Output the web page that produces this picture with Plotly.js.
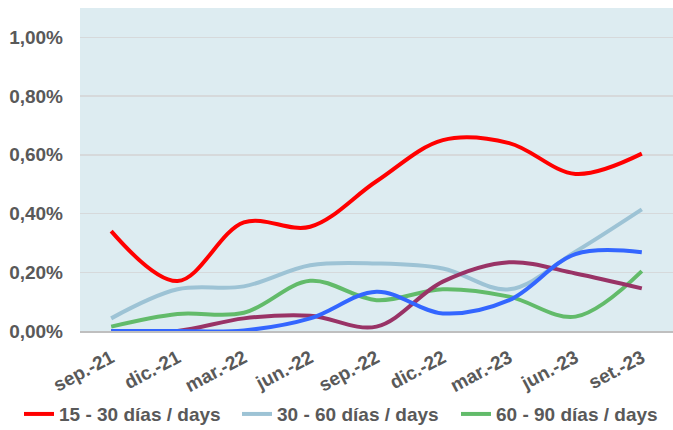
<!DOCTYPE html>
<html>
<head>
<meta charset="utf-8">
<script src="https://cdn.plot.ly/plotly-3.0.1.min.js"></script>
<style>html,body{margin:0;padding:0;background:#fff;}#chart{width:673px;height:430px;}</style>
</head>
<body>
<div id="chart"></div>
<script>
const categories = ["sep.-21","dic.-21","mar.-22","jun.-22","sep.-22","dic.-22","mar.-23","jun.-23","set.-23"];
const seriesNames = ["15 - 30 días / days","30 - 60 días / days","60 - 90 días / days","90 - 120 días / days","120 - 180 días / days"];
const s15_30  = [0.34, 0.17, 0.37, 0.355, 0.51, 0.65, 0.64, 0.535, 0.604];
const s30_60  = [0.043, 0.142, 0.152, 0.224, 0.23, 0.213, 0.142, 0.27, 0.414];
const s60_90  = [0.015, 0.058, 0.062, 0.171, 0.105, 0.142, 0.117, 0.049, 0.204];
const s90_120 = [0.0, 0.0, 0.043, 0.052, 0.015, 0.168, 0.234, 0.196, 0.145];
const s120_180= [0.0, 0.0, 0.002, 0.043, 0.134, 0.06, 0.105, 0.262, 0.268];
const colors = ["#FF0000","#9DC3D5","#62BB6A","#993366","#3366FF"];
const yTicks = [0, 0.2, 0.4, 0.6, 0.8, 1.0];
const yTickLabels = ["0,00%","0,20%","0,40%","0,60%","0,80%","1,00%"];

const allSeries = [s15_30, s30_60, s60_90, s90_120, s120_180];
const legendIds = ["legend", "legend2", "legend3", null, null];
const order = [1, 2, 3, 4, 0]; // draw red on top
const traces = order.map(i => {
  const t = {
    type: "scatter", mode: "lines",
    x: categories, y: allSeries[i], name: seriesNames[i],
    line: {color: colors[i], width: 4, shape: "spline", smoothing: 1},
    showlegend: legendIds[i] !== null
  };
  if (legendIds[i]) t.legend = legendIds[i];
  return t;
});

const font = {family: "Arial, 'Liberation Sans', sans-serif", size: 19, color: "#595959", weight: "bold"};
function leg(xpx) {
  return {
    orientation: "h", xref: "container", yref: "container",
    x: xpx / 673, y: 0.037, xanchor: "left", yanchor: "middle",
    font: font, itemwidth: 30, bgcolor: "rgba(0,0,0,0)"
  };
}
const layout = {
  width: 673, height: 430,
  margin: {l: 80, r: 0, t: 8, b: 99},
  paper_bgcolor: "#FFFFFF", plot_bgcolor: "#DDECF1",
  font: font,
  xaxis: {
    type: "category", range: [-0.47, 8.47],
    showgrid: false, zeroline: false,
    showline: true, linecolor: "#BFBFBF", linewidth: 1.5,
    ticks: "", tickangle: -28, ticklabelstandoff: 7,
    tickfont: font, fixedrange: true
  },
  yaxis: {
    range: [0, 1.1], tickvals: yTicks, ticktext: yTickLabels,
    showgrid: true, gridcolor: "#D6D9DB", gridwidth: 1.5,
    zeroline: false, showline: false, ticks: "", ticklabelstandoff: 16,
    tickfont: font, fixedrange: true
  },
  legend: leg(19),
  legend2: leg(237),
  legend3: leg(456),
  showlegend: true
};
Plotly.newPlot("chart", traces, layout, {displayModeBar: false, staticPlot: true});
</script>
</body>
</html>
